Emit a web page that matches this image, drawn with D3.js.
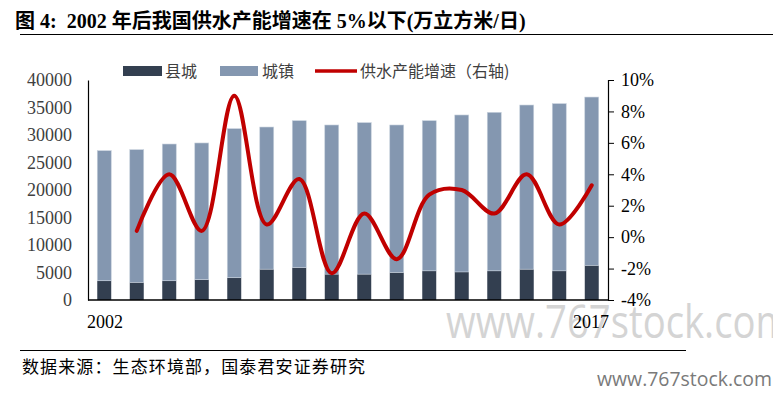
<!DOCTYPE html>
<html><head><meta charset="utf-8">
<script src="https://cdn.jsdelivr.net/npm/d3@7/dist/d3.min.js"></script>
<style>body{margin:0;background:#fff}svg{display:block}</style>
</head><body>
<svg id="c" width="773" height="393"></svg>
<script>
const years = ["2002","2003","2004","2005","2006","2007","2008","2009","2010","2011","2012","2013","2014","2015","2016","2017"];
const county = [3500,3200,3500,3700,4050,5600,5900,4700,4700,5000,5300,5100,5300,5600,5300,6300];
const city = [23650,24130,24860,24850,27100,25850,26700,27120,27540,26820,27300,28540,28820,29850,30400,30600];
const growthYears = ["2003","2004","2005","2006","2007","2008","2009","2010","2011","2012","2013","2014","2015","2016","2017"];
const growth = [0.4,4.0,0.4,9.0,0.8,3.7,-2.3,1.5,-1.4,2.7,3.0,1.5,4.0,0.8,3.3];
const leftTicks = [0,5000,10000,15000,20000,25000,30000,35000,40000];
const rightTicks = [-4,-2,0,2,4,6,8,10];
const xLabels = ["2002","2017"];
const legendLabels = ["县城","城镇","供水产能增速（右轴)"];
const titleText = "图 4:  2002 年后我国供水产能增速在 5%以下(万立方米/日)";
const sourceText = "数据来源：生态环境部，国泰君安证券研究";
const wm = "www.767stock.com";

const svg = d3.select("#c");
const L = 88, R = 608, T = 80, B = 300;
const cDark = "#333f50", cLight = "#8497b0", cRed = "#c00000";

const x = d3.scaleBand().domain(years).range([L, R]).paddingInner(0.57).paddingOuter(0.285);
const yL = d3.scaleLinear().domain([0, 40000]).range([B, T]);
const yR = d3.scaleLinear().domain([-4, 10]).range([B, T]);

// Title
svg.append("text").attr("x", 15).attr("y", 28)
  .attr("font-family", "'Liberation Serif','Noto Sans CJK SC',serif")
  .attr("font-weight", "bold").attr("font-size", 20).attr("fill", "#000")
  .attr("xml:space","preserve").text(titleText);
svg.append("line").attr("x1", 20).attr("x2", 773).attr("y1", 34.5).attr("y2", 34.5)
  .attr("stroke", "#000").attr("stroke-width", 1);

// big watermark
svg.append("text").attr("x", 446).attr("y", 338)
  .attr("font-family", "'Open Sans',sans-serif").attr("font-size", 46)
  .attr("fill", "#d4d4d4").attr("textLength", 345).attr("lengthAdjust", "spacingAndGlyphs")
  .text(wm);

// bars
const stack = years.map((y, i) => ({year: y, county: county[i], city: city[i]}));
svg.append("g").selectAll("rect.county").data(stack).join("rect")
  .attr("x", d => x(d.year)).attr("width", x.bandwidth())
  .attr("y", d => yL(d.county)).attr("height", d => yL(0) - yL(d.county))
  .attr("fill", cDark);
svg.append("g").selectAll("rect.city").data(stack).join("rect")
  .attr("x", d => x(d.year)).attr("width", x.bandwidth())
  .attr("y", d => yL(d.county + d.city)).attr("height", d => yL(d.county) - yL(d.county + d.city))
  .attr("fill", cLight).attr("stroke", "#c9d2de").attr("stroke-width", 0.6);

// line
const line = d3.line()
  .x((d, i) => x(growthYears[i]) + x.bandwidth() / 2)
  .y(d => yR(d))
  .curve(d3.curveCatmullRom.alpha(0.5));
svg.append("path").datum(growth).attr("d", line)
  .attr("fill", "none").attr("stroke", cRed).attr("stroke-width", 4)
  .attr("stroke-linecap", "round").attr("stroke-linejoin", "round");

// left axis
const gL = svg.append("g").attr("transform", `translate(${L},0)`)
  .call(d3.axisLeft(yL).tickValues(leftTicks).tickSize(0).tickPadding(16).tickFormat(d3.format("d")));
gL.select(".domain").attr("stroke", "#000").attr("stroke-width", 1.2);
gL.selectAll("text").attr("font-family", "'Liberation Serif',serif").attr("font-size", 18).attr("fill", "#404040");

// right axis
const gR = svg.append("g").attr("transform", `translate(${R},0)`)
  .call(d3.axisRight(yR).tickValues(rightTicks).tickSize(6).tickPadding(7).tickFormat(d => d + "%"));
gR.select(".domain").attr("stroke", "#000").attr("stroke-width", 1.2);
gR.selectAll(".tick line").attr("stroke", "#000");
gR.selectAll("text").attr("font-family", "'Liberation Serif',serif").attr("font-size", 18).attr("fill", "#000");

// bottom axis
svg.append("line").attr("x1", L).attr("x2", R).attr("y1", B).attr("y2", B)
  .attr("stroke", "#000").attr("stroke-width", 1.5);
svg.append("text").attr("x", L - 1).attr("y", 328).attr("text-anchor", "start")
  .attr("font-family", "'Liberation Serif',serif").attr("font-size", 18).attr("fill", "#000").text(xLabels[0]);
svg.append("text").attr("x", R + 1).attr("y", 328).attr("text-anchor", "end")
  .attr("font-family", "'Liberation Serif',serif").attr("font-size", 18).attr("fill", "#000").text(xLabels[1]);

// legend
const lg = svg.append("g").attr("font-family", "'Noto Sans CJK SC',sans-serif").attr("font-size", 16).attr("fill", "#404040");
lg.append("rect").attr("x", 123).attr("y", 66).attr("width", 39).attr("height", 10).attr("fill", cDark);
lg.append("text").attr("x", 165).attr("y", 77).text(legendLabels[0]);
lg.append("rect").attr("x", 220).attr("y", 66).attr("width", 38).attr("height", 10).attr("fill", cLight);
lg.append("text").attr("x", 262).attr("y", 77).text(legendLabels[1]);
lg.append("line").attr("x1", 315).attr("x2", 357).attr("y1", 71).attr("y2", 71).attr("stroke", cRed).attr("stroke-width", 3.5);
lg.append("text").attr("x", 360).attr("y", 77).text(legendLabels[2]);

// footer
svg.append("line").attr("x1", 20).attr("x2", 686).attr("y1", 350.5).attr("y2", 350.5)
  .attr("stroke", "#000").attr("stroke-width", 1);
svg.append("text").attr("x", 22).attr("y", 373)
  .attr("font-family", "'Noto Sans CJK SC',sans-serif").attr("font-size", 17).attr("fill", "#000")
  .attr("textLength", 343).attr("lengthAdjust", "spacing")
  .text(sourceText);
svg.append("text").attr("x", 597).attr("y", 386)
  .attr("font-family", "'Open Sans',sans-serif").attr("font-size", 20).attr("fill", "#7a7a7a")
  .attr("textLength", 175).attr("lengthAdjust", "spacingAndGlyphs").text(wm);
</script>
</body></html>
